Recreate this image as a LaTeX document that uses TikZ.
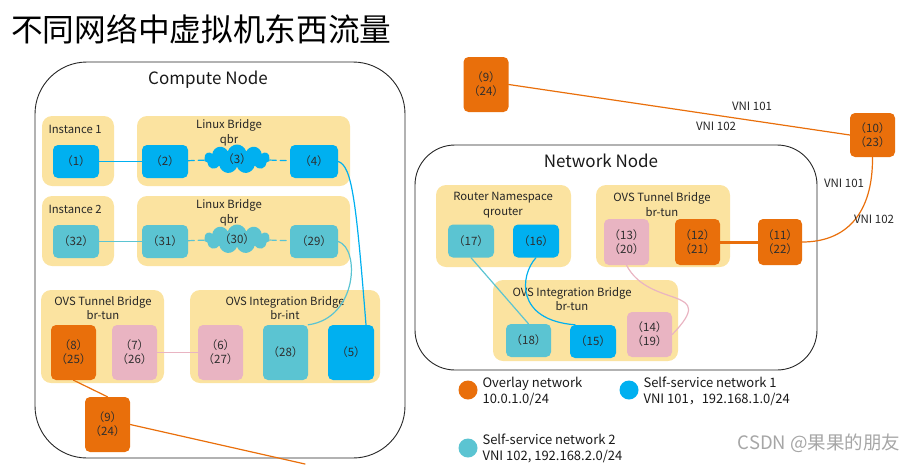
\documentclass[tikz,border=0pt]{standalone}
\usepackage{fontspec}
\setmainfont{Noto Sans CJK SC}
\usepackage{tikz}
\usetikzlibrary{calc}
\usetikzlibrary{shapes.symbols}
\definecolor{bridgeyellow}{HTML}{FBE3A0}
\definecolor{selfblue}{HTML}{00B0F0}
\definecolor{selfteal}{HTML}{5BC4D2}
\definecolor{overlayorange}{HTML}{E96F0B}
\definecolor{patchpink}{HTML}{E9B4C2}
\definecolor{portgray}{HTML}{2E2E2E}

\begin{document}
\begin{tikzpicture}[x=1pt, y=-1pt, line cap=round, line join=round,
  hostbox/.style={draw=black!85, line width=0.9pt, inner sep=0pt},
  hosttitle/.style={font=\fontsize{17}{20}\selectfont, text=black!90},
  bridge/.style={fill=bridgeyellow, rounded corners=10pt, inner sep=0pt},
  boxtitle/.style={font=\fontsize{11.3}{14.5}\selectfont, align=center, text=black!85},
  port/.style={rounded corners=5pt, inner sep=0pt, minimum width=46, minimum height=33,
    font=\fontsize{11.5}{14}\selectfont, text=portgray, align=center},
  blueport/.style={port, fill=selfblue},
  tealport/.style={port, fill=selfteal},
  orangeport/.style={port, fill=overlayorange, minimum width=45, minimum height=55},
  pinkport/.style={port, fill=patchpink, minimum width=45, minimum height=55},
  portcloud/.style={cloud, cloud puffs=11, cloud ignores aspect, minimum width=66,
    minimum height=29, inner sep=0pt, font=\fontsize{11.5}{14}\selectfont, text=portgray},
  bluelink/.style={draw=selfblue, line width=1.2pt},
  teallink/.style={draw=selfteal, line width=1.2pt},
  orangelink/.style={draw=overlayorange, line width=1.2pt},
  pinklink/.style={draw=patchpink, line width=1.2pt},
  bridgedash/.style={dash pattern=on 6pt off 4pt},
  vnilabel/.style={font=\fontsize{11.5}{13}\selectfont, text=black!85},
  legendtext/.style={font=\fontsize{13}{16}\selectfont, align=left, text=black!90, anchor=west},
  ]
  \useasboundingbox (0,0) rectangle (920,464);
  %--- Title
  \node[anchor=west, font=\fontsize{31.7}{34}\selectfont, inner sep=0pt] (title) at (11,29) {不同网络中虚拟机东西流量};

  %--- Compute Node
  \node[hostbox, rounded corners=52pt, minimum width=370, minimum height=396] (compute) at (220,260) {};
  \node[hosttitle] (computelabel) at (208,80) {Compute Node};
  %--- Instance 1 + qbr
  \node[bridge, minimum width=72, minimum height=70] (inst1) at (78,151) {};
  \node[boxtitle, anchor=west] (inst1label) at (45,129) {Instance 1};
  \node[blueport] (n1) at (76,161.5) {（1）};
  \node[bridge, minimum width=213, minimum height=70] (qbr1) at (243.5,151) {};
  \node[boxtitle] (qbr1label) at (229,133) {Linux Bridge\\qbr};
  \node[blueport] (n2) at (165,161.5) {（2）};
  \node[portcloud, fill=selfblue] (n3) at (237,159) {（3）};
  \node[blueport, minimum width=48] (n4) at (314,161.5) {（4）};
  %--- Instance 2 + qbr
  \node[bridge, minimum width=72, minimum height=70] (inst2) at (78,231) {};
  \node[boxtitle, anchor=west] (inst2label) at (45,209) {Instance 2};
  \node[tealport] (n32) at (76,241.5) {（32）};
  \node[bridge, minimum width=213, minimum height=70] (qbr2) at (243.5,231) {};
  \node[boxtitle] (qbr2label) at (229,213) {Linux Bridge\\qbr};
  \node[tealport] (n31) at (165,241.5) {（31）};
  \node[portcloud, fill=selfteal] (n30) at (237,239) {（30）};
  \node[tealport, minimum width=48] (n29) at (314,241.5) {（29）};
  %--- br-tun
  \node[bridge, minimum width=123, minimum height=93] (tunc) at (102.5,336.5) {};
  \node[boxtitle] (tunclabel) at (103,308) {OVS Tunnel Bridge\\br-tun};
  \node[orangeport] (n8) at (73.5,352.5) {（8）\\（25）};
  \node[pinkport] (n7) at (134.5,352.5) {（7）\\（26）};
  %--- br-int
  \node[bridge, minimum width=190, minimum height=93] (intc) at (285,336.5) {};
  \node[boxtitle] (intclabel) at (285,308) {OVS Integration Bridge\\br-int};
  \node[pinkport] (n6) at (220.5,352.5) {（6）\\（27）};
  \node[tealport, minimum width=45, minimum height=55] (n28) at (285.5,352.5) {（28）};
  \node[blueport, minimum height=55] (n5) at (351,352.5) {（5）};
  \node[orangeport] (n9c) at (107.5,424.5) {（9）\\（24）};
  \coordinate (tunnelend) at (305,464);

  %--- Compute links
  \draw[bluelink] (n1) -- (n2);
  \draw[bluelink, bridgedash] (n2) -- (n3);
  \draw[bluelink, bridgedash] (n3) -- (n4);
  \draw[teallink] (n32) -- (n31);
  \draw[teallink, bridgedash] (n31) -- (n30);
  \draw[teallink, bridgedash] (n30) -- (n29);
  \draw[bluelink] (n4.east) .. controls (352,166) and (356,200) .. ([xshift=15pt]n5.north);
  \draw[teallink] (n29.east) .. controls (360,248) and (358,318) .. (n28.north east);
  \draw[pinklink] (n7) -- (n6);
  \draw[orangelink] (n8.south) -- (n9c.north);
  \draw[orangelink] (n9c.east) -- (tunnelend);

  %--- Network Node
  \node[orangeport] (n9n) at (486,84.5) {（9）\\（24）};
  \node[orangeport, minimum height=44] (n10) at (872.5,135) {（10）\\（23）};
  \node[hostbox, rounded corners=40pt, minimum width=402, minimum height=225] (network) at (616,257.5) {};
  \node[hosttitle] (networklabel) at (601,161) {Network Node};
  %--- qrouter
  \node[bridge, minimum width=135, minimum height=82] (router) at (503.5,226) {};
  \node[boxtitle] (routerlabel) at (503,205) {Router Namespace\\qrouter};
  \node[tealport] (n17) at (471,241) {（17）};
  \node[blueport] (n16) at (536,241) {（16）};
  %--- br-tun
  \node[bridge, minimum width=134, minimum height=82] (tunn) at (663,226) {};
  \node[boxtitle] (tunnlabel) at (662,204.5) {OVS Tunnel Bridge\\br-tun};
  \node[pinkport, minimum height=46] (n13) at (626.5,242) {（13）\\（20）};
  \node[orangeport, minimum height=46] (n12) at (697.5,242) {（12）\\（21）};
  \node[orangeport, minimum width=44, minimum height=46] (n11) at (780,242) {（11）\\（22）};
  %--- br-int
  \node[bridge, minimum width=185, minimum height=81] (intn) at (585.5,320.5) {};
  \node[boxtitle] (intnlabel) at (572,299) {OVS Integration Bridge\\br-tun};
  \node[tealport, minimum width=45] (n18) at (528.5,340.5) {（18）};
  \node[blueport] (n15) at (593,341.5) {（15）};
  \node[pinkport, minimum height=45] (n14) at (649.5,334.5) {（14）\\（19）};

  %--- Network links
  \draw[orangelink] (n9n.east) -- (n10.west);
  \node[vnilabel] (vni101a) at (752,106) {VNI 101};
  \node[vnilabel] (vni102a) at (716,126) {VNI 102};
  \draw[orangelink] (n10.south) .. controls (873,215) and (845,242) .. (n11.east);
  \node[vnilabel] (vni101b) at (844,183) {VNI 101};
  \node[vnilabel] (vni102b) at (874,219) {VNI 102};
  \draw[orangelink, line width=3pt] (n12) -- (n11);
  \draw[teallink] (n17.south) -- (n18.north);
  \draw[bluelink] (n16.south) .. controls (520,275) and (515,320) .. ([xshift=-18pt]n15.north);
  \draw[pinklink] (n13.south) .. controls (650,310) and (720,285) .. (n14.east);

  %--- Legend
  \node[circle, fill=overlayorange, minimum size=19, inner sep=0pt] (legorange) at (468,390) {};
  \node[legendtext] (legorangetext) at (479,391) {Overlay network\\10.0.1.0/24};
  \node[circle, fill=selfblue, minimum size=19, inner sep=0pt] (legblue) at (629,390) {};
  \node[legendtext] (legbluetext) at (640,391) {Self-service network 1\\VNI 101，192.168.1.0/24};
  \node[circle, fill=selfteal, minimum size=19, inner sep=0pt] (legteal) at (468,448) {};
  \node[legendtext] (legtealtext) at (479,448) {Self-service network 2\\VNI 102, 192.168.2.0/24};
  \node[text=gray!70, font=\fontsize{18.5}{20}\selectfont] (watermark) at (819,443) {CSDN @果果的朋友};
\end{tikzpicture}
\end{document}
